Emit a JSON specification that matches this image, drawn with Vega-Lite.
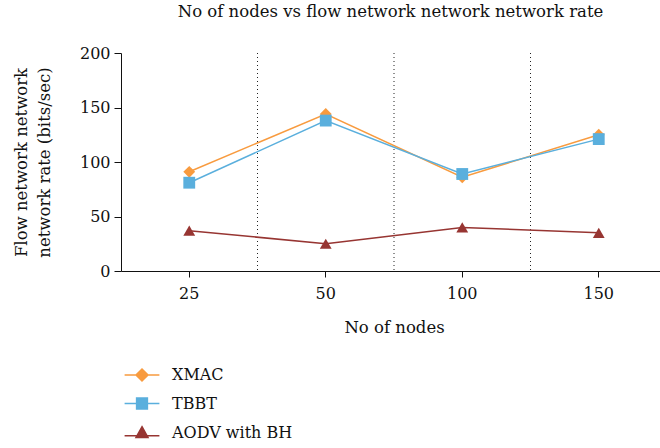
{
  "$schema": "https://vega.github.io/schema/vega-lite/v6.json",
  "width": 539,
  "height": 218,
  "autosize": "none",
  "padding": {"left": 121, "top": 53, "right": 0, "bottom": 177},
  "config": {
    "font": "DejaVu Serif",
    "view": {"stroke": null},
    "axis": {"labelFont": "DejaVu Serif", "titleFont": "DejaVu Serif", "labelColor": "#111", "titleColor": "#111", "titleFontWeight": "normal", "domainColor": "#111", "tickColor": "#111", "grid": false}
  },
  "title": {"text": "No of nodes vs flow network network network rate", "font": "DejaVu Serif", "fontSize": 16.5, "fontWeight": "normal", "color": "#111", "anchor": "middle", "offset": 25},
  "data": {
    "values": [
      {"nodes": 25, "series": "XMAC", "rate": 91},
      {"nodes": 50, "series": "XMAC", "rate": 144},
      {"nodes": 100, "series": "XMAC", "rate": 86},
      {"nodes": 150, "series": "XMAC", "rate": 125},
      {"nodes": 25, "series": "TBBT", "rate": 81},
      {"nodes": 50, "series": "TBBT", "rate": 138},
      {"nodes": 100, "series": "TBBT", "rate": 89},
      {"nodes": 150, "series": "TBBT", "rate": 121},
      {"nodes": 25, "series": "AODV with BH", "rate": 37},
      {"nodes": 50, "series": "AODV with BH", "rate": 25},
      {"nodes": 100, "series": "AODV with BH", "rate": 40},
      {"nodes": 150, "series": "AODV with BH", "rate": 35}
    ]
  },
  "encoding": {
    "x": {
      "field": "nodes", "type": "ordinal", "sort": [25, 50, 100, 150],
      "scale": {"type": "band", "paddingInner": 0, "paddingOuter": 0, "range": [0, 546]},
      "axis": {"labelAngle": 0, "labelFontSize": 16, "labelPadding": 8, "tickSize": 6, "title": "No of nodes", "titleFontSize": 16.5, "titlePadding": 18}
    },
    "y": {
      "field": "rate", "type": "quantitative",
      "scale": {"domain": [0, 200], "nice": false},
      "axis": {"values": [0, 50, 100, 150, 200], "labelFontSize": 16, "labelPadding": 4, "tickSize": 7, "title": ["Flow network network", "network rate (bits/sec)"], "titleFontSize": 16.5, "titleLineHeight": 23, "titlePadding": 27}
    },
    "color": {
      "field": "series", "type": "nominal",
      "scale": {"domain": ["XMAC", "TBBT", "AODV with BH"], "range": ["#F89B3F", "#5AAFDD", "#973532"]},
      "legend": {
        "title": null, "orient": "none", "legendX": 13, "legendY": 314, "padding": 0,
        "symbolSize": 144, "labelFont": "DejaVu Serif", "labelFontSize": 16, "labelColor": "#111", "labelOffset": 22, "rowPadding": 10.5,
        "encode": {
          "symbols": {
            "update": {
              "shape": {"signal": "datum.value === 'XMAC' ? 'M-2.9,0H2.9M0,-1L1,0L0,1L-1,0Z' : datum.value === 'TBBT' ? 'M-2.9,0H2.9M-0.9,-0.9H0.9V0.9H-0.9Z' : 'M-2.9,0.45H2.9M0,-1.05L1,0.75L-1,0.75Z'"},
              "fill": {"signal": "datum.value === 'XMAC' ? '#F89B3F' : datum.value === 'TBBT' ? '#5AAFDD' : '#973532'"},
              "stroke": {"signal": "datum.value === 'XMAC' ? '#F89B3F' : datum.value === 'TBBT' ? '#5AAFDD' : '#973532'"},
              "strokeWidth": {"value": 1.5},
              "size": {"value": 144},
              "opacity": {"value": 1},
              "fillOpacity": {"value": 1},
              "strokeOpacity": {"value": 1}
            }
          }
        }
      }
    }
  },
  "layer": [
    {
      "transform": [{"filter": "datum.series === 'XMAC' && datum.nodes !== 25"}],
      "mark": {"type": "rule", "strokeDash": [1, 3], "strokeWidth": 1},
      "encoding": {"x": {"field": "nodes", "type": "ordinal", "sort": [25, 50, 100, 150], "bandPosition": 0}, "y": null, "color": {"value": "#222"}}
    },
    {
      "mark": {"type": "line", "strokeWidth": 1.5}
    },
    {
      "transform": [{"filter": "datum.series === 'XMAC'"}],
      "mark": {"type": "point", "filled": true, "opacity": 1, "size": 140, "shape": "diamond"}
    },
    {
      "transform": [{"filter": "datum.series === 'TBBT'"}],
      "mark": {"type": "point", "filled": true, "opacity": 1, "size": 140, "shape": "square"}
    },
    {
      "transform": [{"filter": "datum.series === 'AODV with BH'"}],
      "mark": {"type": "point", "filled": true, "opacity": 1, "size": 140, "shape": "triangle-up"}
    }
  ]
}
